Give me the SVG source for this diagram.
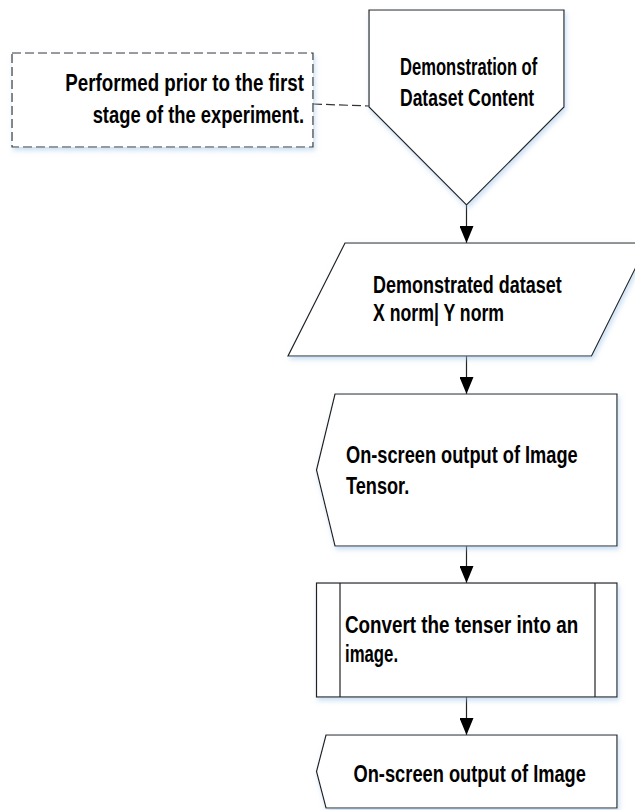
<svg xmlns="http://www.w3.org/2000/svg" width="635" height="810" viewBox="0 0 635 810">
  <style>
    .shape { fill: #ffffff; stroke: #222222; stroke-width: 1.2; }
    .note { fill: #ffffff; stroke: #333333; stroke-width: 1.2; stroke-dasharray: 9 4; }
    .conn { fill: none; stroke: #222222; stroke-width: 1.2; }
    .dconn { fill: none; stroke: #333333; stroke-width: 1.2; stroke-dasharray: 9 4; }
    .lbl { font-family: "Liberation Sans", Arial, sans-serif; font-size: 24px; font-weight: bold; fill: #000000; }
  </style>
  <defs>
    <filter id="sh" x="-10%" y="-10%" width="125%" height="130%">
      <feDropShadow dx="1.5" dy="3" stdDeviation="2.5" flood-color="#9ec3e6" flood-opacity="0.55"/>
    </filter>
    <marker id="arr" viewBox="0 0 17 14" refX="17" refY="7" markerWidth="17" markerHeight="14" markerUnits="userSpaceOnUse" orient="auto">
      <path d="M0,0 L17,7 L0,14 Z" fill="#000000"/>
    </marker>
  </defs>

  <g id="connectors">
    <line class="dconn" x1="313" y1="104" x2="369" y2="106"/>
    <line class="conn" x1="466.5" y1="205" x2="466.5" y2="243" marker-end="url(#arr)"/>
    <line class="conn" x1="466.5" y1="356" x2="466.5" y2="394" marker-end="url(#arr)"/>
    <line class="conn" x1="466.5" y1="546" x2="466.5" y2="583" marker-end="url(#arr)"/>
    <line class="conn" x1="466.5" y1="697" x2="466.5" y2="735" marker-end="url(#arr)"/>
  </g>

  <g id="note">
    <rect class="note" x="12" y="53" width="301" height="94" filter="url(#sh)"/>
    <text class="lbl" transform="translate(304,90.5) scale(0.78,1)" text-anchor="end" textLength="306" lengthAdjust="spacingAndGlyphs">Performed prior to the first</text>
    <text class="lbl" transform="translate(304,122.5) scale(0.78,1)" text-anchor="end" textLength="271" lengthAdjust="spacingAndGlyphs">stage of the experiment.</text>
  </g>

  <g id="start">
    <polygon class="shape" points="369,10 564,10 564,107 466.5,205 369,107" filter="url(#sh)"/>
    <text class="lbl" transform="translate(400,75) scale(0.78,1)" textLength="176" lengthAdjust="spacingAndGlyphs">Demonstration of</text>
    <text class="lbl" transform="translate(400,106) scale(0.78,1)" textLength="172" lengthAdjust="spacingAndGlyphs">Dataset Content</text>
  </g>

  <g id="dataset">
    <polygon class="shape" points="345,243 648,243 591.5,356 288,356" filter="url(#sh)"/>
    <text class="lbl" transform="translate(373,293) scale(0.78,1)" textLength="242" lengthAdjust="spacingAndGlyphs">Demonstrated dataset</text>
    <text class="lbl" transform="translate(373,321) scale(0.78,1)" textLength="168" lengthAdjust="spacingAndGlyphs">X norm| Y norm</text>
  </g>

  <g id="display1">
    <polygon class="shape" points="335,394 617,394 617,546 335,546 316.5,470" filter="url(#sh)"/>
    <text class="lbl" transform="translate(346,463) scale(0.78,1)" textLength="297" lengthAdjust="spacingAndGlyphs">On-screen output of Image</text>
    <text class="lbl" transform="translate(346,494) scale(0.78,1)" textLength="81" lengthAdjust="spacingAndGlyphs">Tensor.</text>
  </g>

  <g id="convert">
    <rect class="shape" x="316.5" y="583" width="300.5" height="114" filter="url(#sh)"/>
    <line class="conn" x1="340" y1="583" x2="340" y2="697"/>
    <line class="conn" x1="595" y1="583" x2="595" y2="697"/>
    <text class="lbl" transform="translate(345,633) scale(0.78,1)" textLength="299" lengthAdjust="spacingAndGlyphs">Convert the tenser into an</text>
    <text class="lbl" transform="translate(345,662) scale(0.78,1)" textLength="68" lengthAdjust="spacingAndGlyphs">image.</text>
  </g>

  <g id="display2">
    <polygon class="shape" points="326,735 617,735 617,808 326,808 316.5,771.5" filter="url(#sh)"/>
    <text class="lbl" transform="translate(353.5,781.5) scale(0.78,1)" textLength="298" lengthAdjust="spacingAndGlyphs">On-screen output of Image</text>
  </g>
</svg>
